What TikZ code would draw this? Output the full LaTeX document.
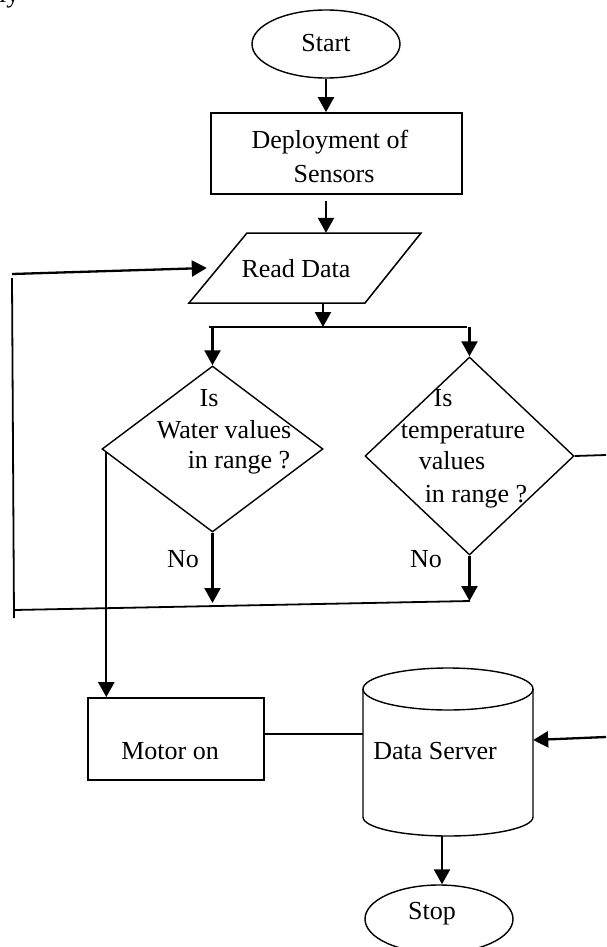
\documentclass[tikz,border=0pt]{standalone}
\usepackage{fontspec}
\setmainfont{Liberation Serif}
\usetikzlibrary{shapes.geometric,arrows.meta,calc}
\begin{document}
\begin{tikzpicture}[x=1pt,y=-1pt,
  shp/.style={draw, line width=1.4pt, inner sep=0pt},
  box/.style={shp, rectangle, line width=1.7pt},
  arr/.style={line width=2.3pt, -{Triangle[length=15pt,width=16pt]}},
  lnk/.style={line width=1.8pt},
  txt/.style={font=\fontsize{26}{31}\selectfont, inner sep=0pt, anchor=base}]
\useasboundingbox (0,0) rectangle (606,947);
\clip (0,0) rectangle (606,947);

% fragment of text at the top left
\node[txt, anchor=base west] (frag) at (-1,2.5) {ly};

% Start
\node[shp, ellipse, minimum width=148, minimum height=68] (start) at (326,44) {};
\node[txt] (tstart) at (326,52) {Start};

% Deployment
\node[box, minimum width=251, minimum height=81] (dep) at (336.5,153.5) {};
\node[txt] (tdep1) at (330,149) {Deployment of};
\node[txt] (tdep2) at (334,182) {Sensors};

% Read Data (parallelogram)
\coordinate (p1) at (247,233);
\coordinate (p2) at (421,233);
\coordinate (p3) at (365,303);
\coordinate (p4) at (189,303);
\draw[line width=1.5pt] (p1) -- (p2) -- (p3) -- (p4) -- cycle;
\node[minimum width=232, minimum height=70, inner sep=0pt] (rd) at (305,268) {};
\node[txt] (trd) at (296,277) {Read Data};

% Diamonds
\node[shp, diamond, minimum width=221, minimum height=166] (ld) at (212.5,449) {};
\node[txt] (tl1) at (209,406) {Is};
\node[txt] (tl2) at (224,438) {Water values};
\node[txt] (tl3) at (239,468) {in range ?};

\node[shp, diamond, minimum width=209, minimum height=198] (rdm) at (469.5,456) {};
\node[txt] (tr1) at (443,406) {Is};
\node[txt] (tr2) at (463,438) {temperature};
\node[txt] (tr3) at (452,469) {values};
\node[txt] (tr4) at (476,502) {in range ?};

\node[txt] (nol) at (183,567) {No};
\node[txt] (nor) at (426,567) {No};

% Motor on
\node[box, minimum width=176, minimum height=82] (motor) at (176,739) {};
\node[txt] (tmotor) at (170,759) {Motor on};

% Data Server (cylinder)
\node[minimum width=170, minimum height=168, inner sep=0pt] (ds) at (448,752) {};
\draw[line width=1.4pt] (363,689) -- (363,817) arc[start angle=180, end angle=0, x radius=85, y radius=19] -- (533,689);
\draw[line width=1.4pt] (448,689) ellipse [x radius=85, y radius=21];
\node[txt] (tds) at (435,759) {Data Server};

% Stop
\node[shp, ellipse, minimum width=148, minimum height=68] (stop) at (439,919) {};
\node[txt] (tstop) at (432,919) {Stop};

% Connectors
\draw[arr] (start.south) -- (start.south |- dep.north);
\draw[arr] ([yshift=-6pt]dep.south -| start.south) -- (start.south |- rd.north);

\coordinate (split) at (323,327);
\coordinate (sl) at (209,327);
\coordinate (sr) at (467,327);
\draw[arr] ([xshift=18pt]rd.south) -- (split);
\draw[lnk] (sl) -- (sr);
\draw[arr] (ld.north |- split) -- (ld.north);
\draw[arr] (rdm.north |- split) -- (rdm.north);

\coordinate (redge) at (606,455);
\draw[lnk] (rdm.east) -- (redge);

\coordinate (nl) at (211,603);
\coordinate (nr) at (470,601);
\draw[arr] (ld.south) -- (ld.south |- nl);
\draw[arr] (rdm.south) -- (rdm.south |- nr);

\coordinate (bl) at (14,610);
\coordinate (vb) at (14,618);
\coordinate (vt) at (12,278);
\coordinate (tl) at (12,274);
\draw[lnk] (nr) -- (bl);
\draw[lnk] (vb) -- (vt);
\draw[arr] (tl) -- ([xshift=18pt]rd.west);

\coordinate (ldw) at ([xshift=5pt,yshift=-3pt]ld.west);
\draw[arr] (ldw) -- (ldw |- motor.north);

\draw[lnk] ([yshift=5pt]motor.east) -- ([yshift=5pt]motor.east -| ds.west);
\coordinate (rin) at (606,737);
\draw[arr] (rin) -- ([yshift=12pt]ds.east);
\draw[arr] ([xshift=-6pt]ds.south) -- ([xshift=-6pt]ds.south |- stop.north);
\end{tikzpicture}
\end{document}
